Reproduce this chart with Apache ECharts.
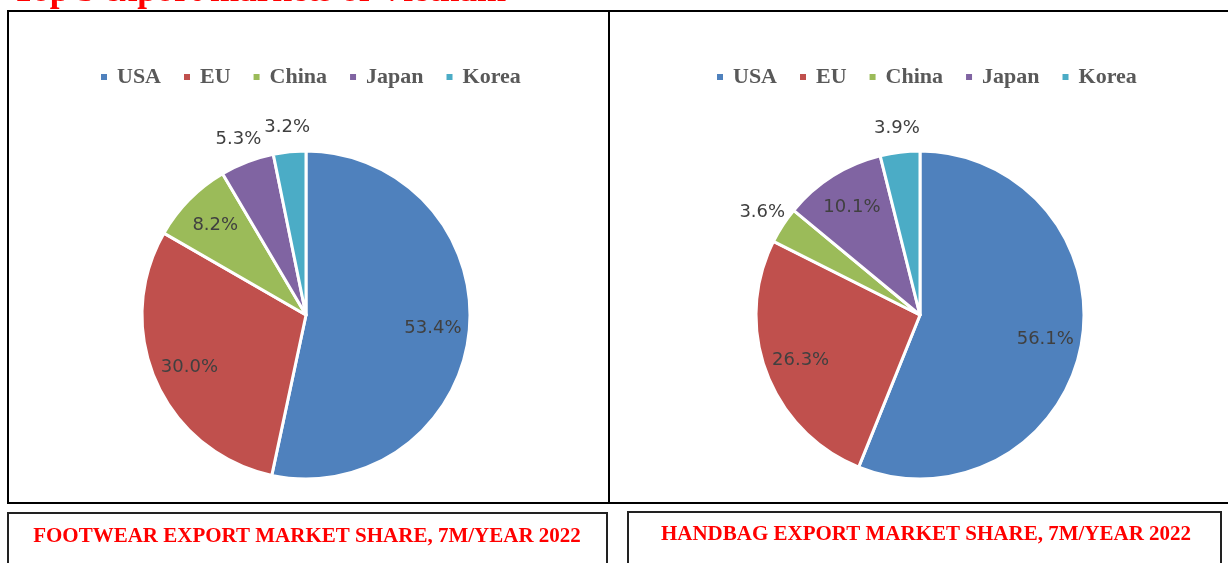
<!DOCTYPE html>
<html>
<head>
<meta charset="utf-8">
<script src="https://cdn.jsdelivr.net/npm/echarts@6/dist/echarts.min.js"></script>
<style>
  html, body { margin: 0; padding: 0; background: #fff; }
  #chart { width: 1228px; height: 563px; }
</style>
</head>
<body>
<div id="chart"></div>
<script>
const markets = ["USA", "EU", "China", "Japan", "Korea"];
const footwearShare = [53.4, 30.0, 8.2, 5.3, 3.2];
const handbagShare = [56.1, 26.3, 3.6, 10.1, 3.9];
const colors = ['#4f81bd', '#c0504d', '#9bbb59', '#8064a2', '#4bacc6'];
const pageTitle = "Top 5 export markets of Vietnam";
const captions = ["FOOTWEAR EXPORT MARKET SHARE, 7M/YEAR 2022", "HANDBAG EXPORT MARKET SHARE, 7M/YEAR 2022"];

let chart = echarts.init(document.getElementById("chart"), null, { renderer: "canvas" });

const R = 164;
const labelStyle = {
    fontFamily: "DejaVu Sans",
    fontSize: 18,
    color: "#404040",
    formatter: (p) => p.value.toFixed(1) + "%"
};

// main pie + two transparent rings that only carry labels (inside / outside)
function pieSeries(values, center) {
    const main = {
        type: "pie",
        center: center,
        radius: [0, R],
        startAngle: 90,
        clockwise: true,
        label: { show: false },
        labelLine: { show: false },
        itemStyle: { borderColor: "#fff", borderWidth: 3 },
        emphasis: { disabled: true },
        data: markets.map((m, i) => ({ name: m, value: values[i] }))
    };
    const ring = (radius, showIt) => ({
        type: "pie",
        center: center,
        radius: radius,
        silent: true,
        emphasis: { disabled: true },
        itemStyle: { color: "transparent", borderWidth: 0 },
        labelLine: { show: false },
        label: Object.assign({ position: "inside" }, labelStyle),
        data: markets.map((m, i) => ({
            name: m, value: values[i],
            label: { show: showIt(values[i]) }
        }))
    });
    return [main, ring([R * 0.52, R], v => v >= 8), ring([R, R * 1.26], v => v < 8)];
}

function legend(left) {
    return {
        left: left,
        top: 61,
        icon: "rect",
        itemWidth: 6,
        itemHeight: 6,
        itemGap: 23,
        selectedMode: false,
        itemStyle: { borderWidth: 0 },
        textStyle: {
            fontFamily: "Liberation Serif",
            fontWeight: "bold",
            fontSize: 22,
            color: "#595959",
            padding: [0, 0, 0, 5]
        },
        data: markets
    };
}

chart.setOption({
    color: colors,
    animation: false,
    legend: [legend(96), legend(712)],
    series: pieSeries(footwearShare, [306, 315]).concat(pieSeries(handbagShare, [920, 315])),
    graphic: [
        { type: "text", x: 12, y: -8,
          style: { text: pageTitle, font: 'bold 35px "Liberation Serif"', fill: "#ff0000", verticalAlign: "middle" } },
        { type: "rect", shape: { x: 8, y: 11, width: 601, height: 492 },
          style: { fill: "none", stroke: "#000", lineWidth: 2 } },
        { type: "rect", shape: { x: 609, y: 11, width: 630, height: 492 },
          style: { fill: "none", stroke: "#000", lineWidth: 2 } },
        { type: "rect", shape: { x: 8, y: 513, width: 599, height: 70 },
          style: { fill: "none", stroke: "#222", lineWidth: 2 } },
        { type: "rect", shape: { x: 628, y: 512, width: 593, height: 70 },
          style: { fill: "none", stroke: "#222", lineWidth: 2 } },
        { type: "text", x: 307, y: 537,
          style: { text: captions[0], font: 'bold 21px "Liberation Serif"', fill: "#ff0000", align: "center", verticalAlign: "middle" } },
        { type: "text", x: 926, y: 535,
          style: { text: captions[1], font: 'bold 21px "Liberation Serif"', fill: "#ff0000", align: "center", verticalAlign: "middle" } }
    ]
});
</script>
</body>
</html>
